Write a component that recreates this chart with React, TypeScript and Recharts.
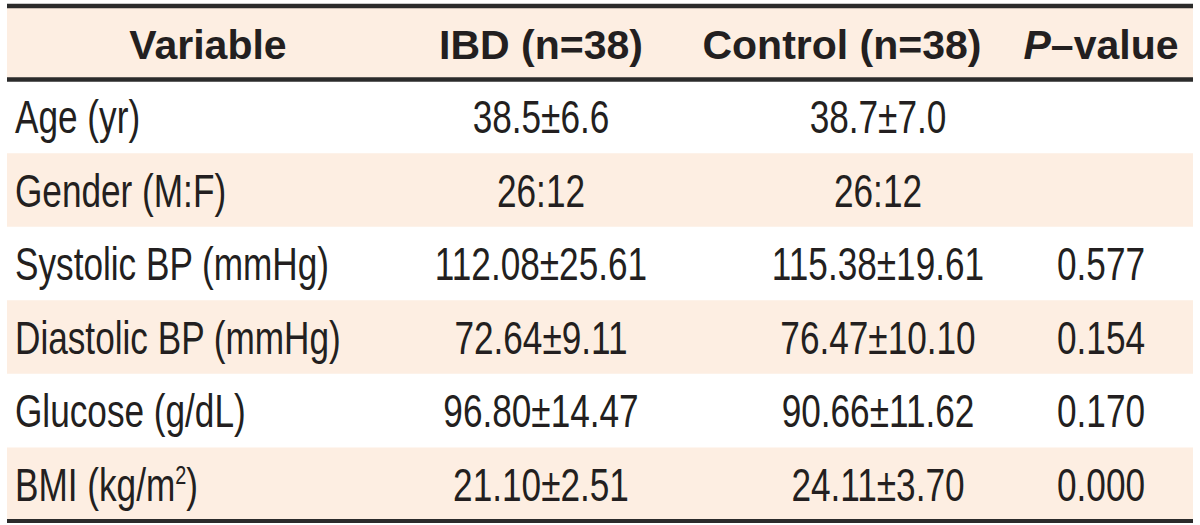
import React from "react";
import { ComposedChart, Bar, XAxis, YAxis, Cell, LabelList, ReferenceLine } from "recharts";

// ---- data ----
const headers = ["Variable", "IBD (n=38)", "Control (n=38)", "P–value"];
const variables = [
  "Age (yr)",
  "Gender (M:F)",
  "Systolic BP (mmHg)",
  "Diastolic BP (mmHg)",
  "Glucose (g/dL)",
  "BMI (kg/m²)",
];
const ibdValues = ["38.5±6.6", "26:12", "112.08±25.61", "72.64±9.11", "96.80±14.47", "21.10±2.51"];
const controlValues = ["38.7±7.0", "26:12", "115.38±19.61", "76.47±10.10", "90.66±11.62", "24.11±3.70"];
const pValues = ["", "", "0.577", "0.154", "0.170", "0.000"];

// ---- style / layout ----
const W = 1200;
const H = 525;
const MARGIN = { top: 6, right: 7, bottom: 4, left: 7 };
const BODY_FONT = "'Liberation Sans', Arial, sans-serif";
const HEAD_FONT = "'Liberation Sans', Arial, sans-serif";
const TEXT = "#231f20";
const SHADE = "#fdeee2";
const RULE = "#2b2b2b";
const BODY_SIZE = 46;
const BODY_SCALE_X = 0.765;
const HEAD_SIZE = 41;
// column anchor offsets from the plot's left edge
const COLS = [
  { head: 201, body: 8, bodyAnchor: "start" },
  { head: 534, body: 534, bodyAnchor: "middle" },
  { head: 835, body: 871, bodyAnchor: "middle" },
  { head: 1094, body: 1094, bodyAnchor: "middle" },
];

const rows = [
  { key: "r0", band: 1, c0: headers[0], c1: headers[1], c2: headers[2], c3: headers[3] },
  ...variables.map((v, i) => ({
    key: `r${i + 1}`,
    band: 1,
    c0: v,
    c1: ibdValues[i],
    c2: controlValues[i],
    c3: pValues[i],
  })),
];

function renderContent(value: string, isHead: boolean) {
  if (isHead && value.startsWith("P–")) {
    return [
      <tspan key="p" fontStyle="italic">P</tspan>,
      <tspan key="r">{value.slice(1)}</tspan>,
    ];
  }
  if (value.includes("²")) {
    const [a, b] = value.split("²");
    return [
      <tspan key="a">{a}</tspan>,
      <tspan key="s" dy={-17} fontSize={26}>2</tspan>,
      <tspan key="b" dy={17} fontSize={BODY_SIZE}>{b}</tspan>,
    ];
  }
  return value;
}

function makeCell(col: number) {
  return (props: any) => {
    const value = props.value;
    if (value === undefined || value === null || value === "") return null;
    const vb = props.viewBox ?? props;
    const { x, y, width, height } = vb;
    const isHead = headers.includes(value);
    const c = COLS[col];
    const cx = x + (isHead ? c.head : c.body);
    const anchor = isHead ? "middle" : c.bodyAnchor;
    const baseline = y + height / 2 + (isHead ? 16 : 16.5);
    if (isHead) {
      return (
        <text
          x={cx}
          y={baseline}
          textAnchor={anchor}
          fontFamily={HEAD_FONT}
          fontWeight={700}
          fontSize={HEAD_SIZE}
          fill={TEXT}
        >
          {renderContent(value, true)}
        </text>
      );
    }
    return (
      <text
        x={0}
        y={0}
        transform={`translate(${cx},${baseline}) scale(${BODY_SCALE_X},1)`}
        textAnchor={anchor}
        fontFamily={BODY_FONT}
        fontWeight={400}
        fontSize={BODY_SIZE}
        fill={TEXT}
      >
        {renderContent(value, false)}
      </text>
    );
  };
}

export default function App() {
  return (
    <div style={{ position: "absolute", left: 0, top: 0, background: "#fff" }}>
      <ComposedChart
        width={W}
        height={H}
        data={rows}
        layout="vertical"
        margin={MARGIN}
        barCategoryGap={0}
        barGap={0}
      >
        <XAxis type="number" domain={[0, 1]} hide />
        <YAxis type="category" dataKey="key" hide />
        <Bar dataKey="band" isAnimationActive={false}>
          {rows.map((r, i) => (
            <Cell key={r.key} fill={i % 2 === 0 ? SHADE : "#ffffff"} />
          ))}
          <LabelList dataKey="c0" content={makeCell(0)} />
          <LabelList dataKey="c1" content={makeCell(1)} />
          <LabelList dataKey="c2" content={makeCell(2)} />
          <LabelList dataKey="c3" content={makeCell(3)} />
        </Bar>
        <ReferenceLine y="r0" position="start" stroke={RULE} strokeWidth={4.5} />
        <ReferenceLine y="r0" position="end" stroke={RULE} strokeWidth={4.5} />
        <ReferenceLine y="r6" position="end" stroke={RULE} strokeWidth={4} />
      </ComposedChart>
    </div>
  );
}
